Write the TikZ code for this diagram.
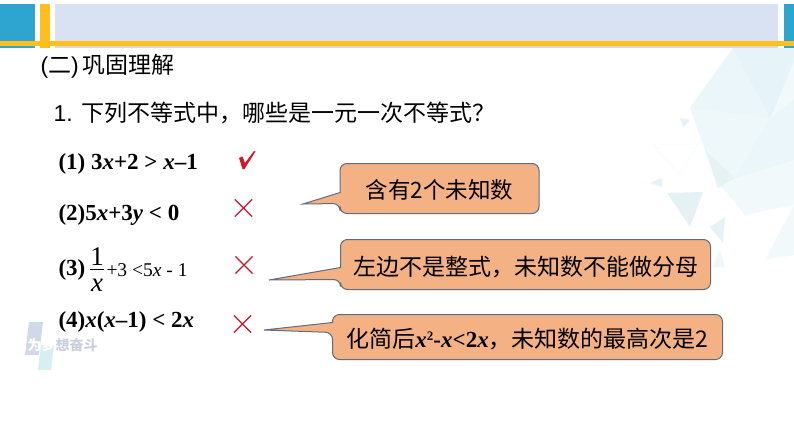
\documentclass[tikz,border=0pt]{standalone}
\usepackage{fontspec}
\setmainfont{Liberation Serif}
\newfontfamily\cjkfont{Noto Sans CJK SC}
\newfontfamily\arialfont{Liberation Sans}
\usetikzlibrary{backgrounds,positioning,calc,shapes.misc}
\pgfdeclarelayer{background}
\pgfdeclarelayer{foreground}
\pgfsetlayers{background,main,foreground}
\definecolor{barblue}{HTML}{2EA5D1}
\definecolor{bargold}{HTML}{FDBE1E}
\definecolor{barpale}{HTML}{D9E2F3}
\definecolor{hintfill}{HTML}{F4B183}
\definecolor{hintedge}{HTML}{5F6B80}
\definecolor{markred}{HTML}{D2142C}
\definecolor{facetA}{HTML}{EAF6FA}
\definecolor{facetB}{HTML}{E6F4F9}
\definecolor{facetC}{HTML}{EEF8FB}
\definecolor{facetD}{HTML}{E6F3F6}
\definecolor{facetE}{HTML}{F2F9FB}
\definecolor{facetF}{HTML}{E4F2F5}
\definecolor{facetG}{HTML}{F4F9FA}
\definecolor{logoblue}{HTML}{D0D9E7}
\definecolor{logocyan}{HTML}{D6F0F1}
\definecolor{logotext}{HTML}{C8D0E0}
\newcommand{\cjk}[1]{{\cjkfont #1}}
\newcommand{\hintpath}[4]{\draw[hintedge style] ($(#1.north west)+(0,#3)$) -- (#1.north west) -- (#1.north east) -- (#1.south east) -- (#1.south west) -- ($(#1.north west)+(0,#4)$) [sharp corners] -- (#2) -- cycle;}

\begin{document}
\begin{tikzpicture}[
    x=1pt, y=-1pt,
    headnode/.style={anchor=west, inner sep=0pt, font=\fontsize{23}{23}\selectfont},
    itemnode/.style={anchor=west, inner sep=0pt, font=\fontsize{23}{23}\selectfont\bfseries},
    hintnode/.style={inner sep=0pt, align=center, text depth=0pt, font=\fontsize{23}{23}\selectfont},
    hintedge style/.style={draw=hintedge, fill=hintfill, line width=1pt, rounded corners=7pt},
    crossnode/.style={cross out, draw=markred, line width=1.2pt, minimum size=16pt, inner sep=0pt},
    line width=1pt, black
    ]
    \useasboundingbox (0,0) rectangle (794,447);

    % Background facets
    \begin{scope}[on background layer]
    \fill[white] (0,0) rectangle (794,447);
    \fill[facetE] (733,48) -- (794,48) -- (794,205) -- (745,215) -- (720,185) -- (705,150) -- (690,108) -- cycle;
    \fill[facetA] (733,48) -- (690,108) -- (770,118) -- cycle;
    \fill[facetB] (733,48) -- (794,48) -- (794,62) -- (770,118) -- cycle;
    \fill[facetC] (690,108) -- (770,118) -- (735,178) -- (705,150) -- cycle;
    \fill[facetA] (770,118) -- (794,100) -- (794,160) -- (735,178) -- cycle;
    \fill[facetD] (705,150) -- (735,178) -- (718,188) -- cycle;
    \fill[facetE] (794,205) -- (794,255) -- (765,260) -- cycle;
    \fill[facetF] (667,193) -- (703,192) -- (690,227) -- cycle;
    \fill[facetD] (650,183) -- (662,178) -- (662,187) -- cycle;
    \fill[facetD] (680,118) -- (690,120) -- (683,128) -- cycle;
    \fill[facetD] (710,227) -- (725,217) -- (723,243) -- cycle;
    \fill[facetC] (712,267) -- (720,250) -- (725,267) -- cycle;
    \draw[line width=.5pt, facetG] (653,144) -- (698,144) -- (680,175) -- cycle;

    % Watermark
    \fill[logoblue] (29,322) -- (43,322) -- (39,355) -- (25,355) -- cycle;
    \fill[logocyan] (41,345) -- (54,345) -- (51,370) -- (38,370) -- cycle;

    % Top bar
    \fill[barblue] (0,4) rectangle (35,48);
    \fill[bargold] (40,4) rectangle (50,48);
    \fill[barpale] (55,4) rectangle (778,47);
    \fill[barblue] (784,4) rectangle (794,48);
    \fill[black!15] (55,46) rectangle (778,48);
    \fill[bargold] (0,41) rectangle (794,46);
    \end{scope}

    %Nodes
    \node[headnode] (head) at (40,66) {\arialfont(\cjk{二})\,\cjk{巩固理解}};
    \node[headnode] (ask) at (53,113) {\arialfont 1. \cjk{下列不等式中，哪些是一元一次不等式？}};

    \node[itemnode] (item1) at (58,164) {(1) 3\textit{x}+2 > \textit{x}--1};
    \node[itemnode] (item2) at (58,215) {(2)5\textit{x}+3\textit{y} < 0};
    \node[itemnode] (item3) at (58,270) {(3)};
    \node[inner sep=0pt, font=\fontsize{27}{27}\selectfont] (frac3) at (97,269.5) {$\frac{\hbox{1}}{\hbox{\raisebox{0pt}[22pt]{\textit{x}}}}$};
    \node[itemnode, font=\fontsize{19.5}{20}\selectfont] (rest3) at (106,270) {+3 <5\textit{x} - 1};
    \node[itemnode] (item4) at (58,322) {(4)\textit{x}(\textit{x}--1) < 2\textit{x}};

    \node[crossnode] (cross2) at (243.5,208) {};
    \node[crossnode] (cross3) at (244,265) {};
    \node[crossnode] (cross4) at (242.5,324) {};

    % Watermark text
    \node[inner sep=0pt, anchor=west, text=logotext, font=\fontsize{14}{14}\selectfont\bfseries] (mark) at (27,345) {\cjk{\textcolor{white}{为梦}想奋斗}};

    % Check mark
    \coordinate (chk) at (239,158);
    \fill[markred] (chk) -- ++(3.5,-1.5) -- (245,163) -- (254,151) -- (255.5,151.5) -- (244.5,169) -- (242.5,169) -- cycle;

    % Hint boxes
    \node[hintnode, minimum width=198pt, minimum height=49pt, font=\fontsize{22.5}{23}\selectfont] (hint1) at (439.5,188.5) {\raisebox{-2pt}{\cjk{含有2个未知数}}};
    \node[hintnode, minimum width=369pt, minimum height=49pt] (hint2) at (525.5,264.5) {\raisebox{-2pt}{\cjk{左边不是整式，未知数不能做分母}}};
    \node[hintnode, minimum width=389pt, minimum height=44pt] (hint3) at (527.5,337) {\raisebox{-1pt}{\cjk{化简后}\textbf{\textit{x}\raisebox{7pt}{\fontsize{13}{13}\selectfont 2}-\textit{x}<2\textit{x}}\cjk{，未知数的最高次是2}}};

    \coordinate (tip1) at (303,204);
    \coordinate (tip2) at (269,280);
    \coordinate (tip3) at (264,330);

    %Lines
    \begin{pgfonlayer}{background}
    \hintpath{hint1}{tip1}{29}{40}
    \hintpath{hint2}{tip2}{28}{40}
    \hintpath{hint3}{tip3}{8}{18}
    \end{pgfonlayer}
\end{tikzpicture}
\end{document}
